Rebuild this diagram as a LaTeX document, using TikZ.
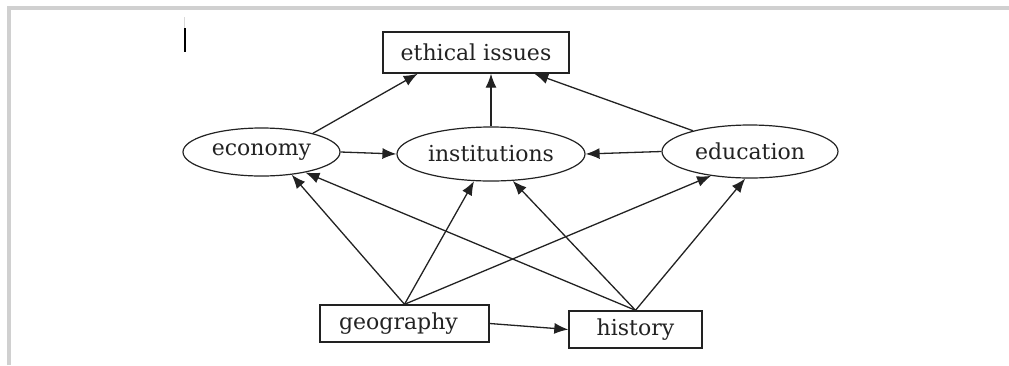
\documentclass[tikz,border=0pt]{standalone}
\usepackage{fontspec}
\setmainfont{DejaVu Serif}
\usetikzlibrary{shapes.geometric,arrows.meta}
\definecolor{framegray}{HTML}{D0D0D0}
\definecolor{ink}{HTML}{222222}
\begin{document}
\begin{tikzpicture}[x=1pt,y=-1pt,
  lbl/.style={font=\fontsize{22}{26}\selectfont, text=ink, inner sep=0pt},
  rectnode/.style={lbl, draw=ink, line width=1.4pt, rectangle},
  ellnode/.style={lbl, draw=ink, line width=1.2pt, ellipse},
  conn/.style={draw=ink, line width=1.3pt, -{Latex[length=14pt,width=11pt]}}]
\useasboundingbox (0,0) rectangle (1009,365);
% frame
\draw[framegray, line width=4pt] (9,365) -- (9,7.5) -- (1009,7.5);
% cursor mark
\draw[black!15, line width=1pt] (184.5,17) -- (184.5,28);
\draw[black, line width=2pt] (184.5,28) -- (184.5,52);
% nodes
\node[rectnode, minimum width=186pt, minimum height=41pt] (ethical) at (476,52.5) {ethical issues};
\node[ellnode, minimum width=157pt, minimum height=48pt] (economy) at (261.5,152) {economy};
\node[ellnode, minimum width=188pt, minimum height=54pt] (inst) at (491,154) {institutions};
\node[ellnode, minimum width=176pt, minimum height=53pt] (edu) at (750,151.5) {education};
\node[rectnode, minimum width=169pt, minimum height=37pt] (geo) at (404.5,323.5) {\hspace*{-12pt}geography};
\node[rectnode, minimum width=133pt, minimum height=37pt] (hist) at (635.5,329.5) {history};
% connectors
\draw[conn] (economy.20) -- (ethical.200);
\draw[conn] (inst.north) -- (inst.north |- ethical.south);
\draw[conn] (edu.160) -- (ethical.340);
\draw[conn] (economy.east) -- (inst.west);
\draw[conn] (edu.west) -- (inst.east);
\draw[conn] (geo.north) -- (economy.-37);
\draw[conn] (geo.north) -- (inst.238);
\draw[conn] (geo.north) -- (edu.212);
\draw[conn] (hist.north) -- (economy.-25);
\draw[conn] (hist.north) -- (inst.-51);
\draw[conn] (hist.north) -- (edu.260);
\draw[conn] (geo.east) -- (hist.west);
\end{tikzpicture}
\end{document}
